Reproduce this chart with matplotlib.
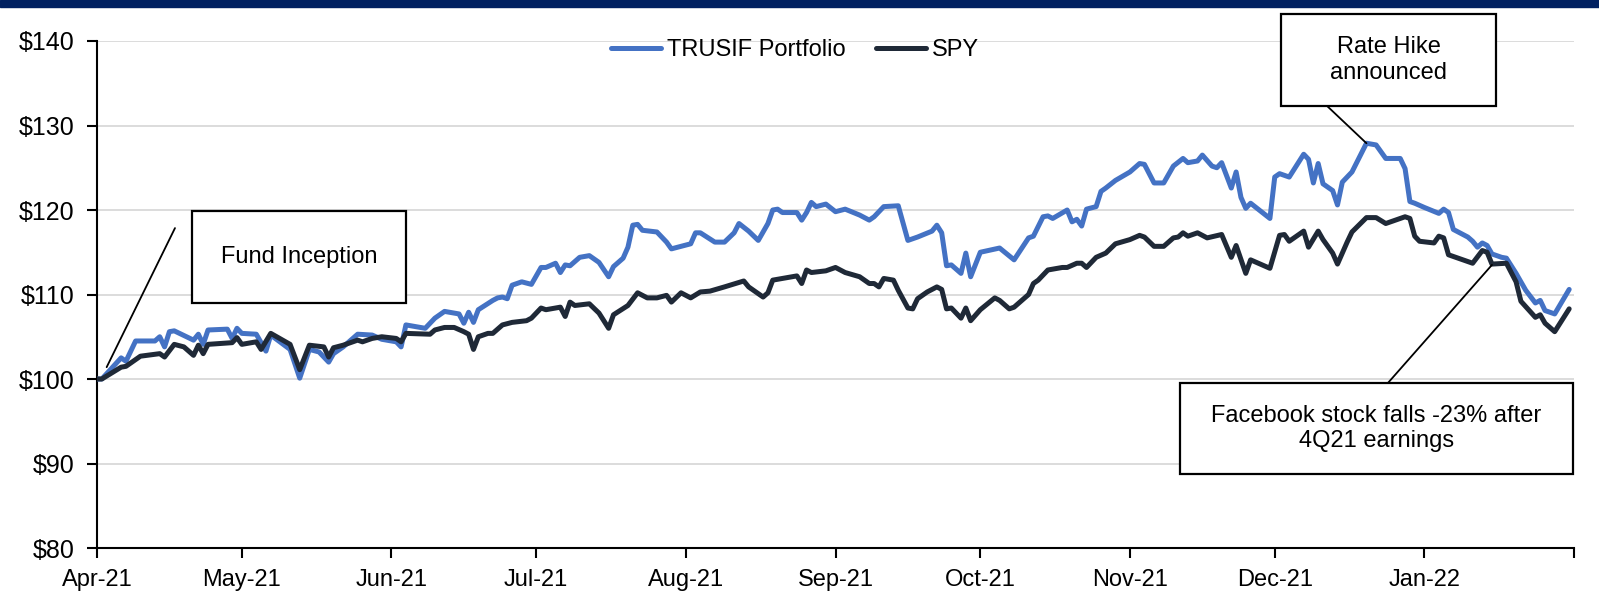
import matplotlib
matplotlib.use("Agg")
import matplotlib.pyplot as plt
import matplotlib.dates as mdates
import pandas as pd
from matplotlib.patches import Rectangle

plt.rcParams["font.family"] = ["Liberation Sans", "DejaVu Sans"]

# values (indexed to $100 at inception)
tru_dates = [
    "2021-04-01", "2021-04-02", "2021-04-06", "2021-04-07", "2021-04-09", "2021-04-13", "2021-04-14",
    "2021-04-15", "2021-04-16", "2021-04-17", "2021-04-21", "2021-04-22", "2021-04-23", "2021-04-24",
    "2021-04-28", "2021-04-29", "2021-04-30", "2021-05-01", "2021-05-04", "2021-05-06", "2021-05-07",
    "2021-05-11", "2021-05-13", "2021-05-15", "2021-05-17", "2021-05-19", "2021-05-20", "2021-05-22",
    "2021-05-25", "2021-05-28", "2021-05-30", "2021-06-02", "2021-06-03", "2021-06-04", "2021-06-08",
    "2021-06-10", "2021-06-12", "2021-06-15", "2021-06-16", "2021-06-17", "2021-06-18", "2021-06-19",
    "2021-06-22", "2021-06-23", "2021-06-24", "2021-06-25", "2021-06-26", "2021-06-28", "2021-06-30",
    "2021-07-02", "2021-07-03", "2021-07-05", "2021-07-06", "2021-07-07", "2021-07-08", "2021-07-10",
    "2021-07-12", "2021-07-14", "2021-07-16", "2021-07-17", "2021-07-19", "2021-07-20", "2021-07-21",
    "2021-07-22", "2021-07-23", "2021-07-26", "2021-07-28", "2021-07-29", "2021-07-31", "2021-08-02",
    "2021-08-03", "2021-08-04", "2021-08-07", "2021-08-09", "2021-08-11", "2021-08-12", "2021-08-14",
    "2021-08-16", "2021-08-18", "2021-08-19", "2021-08-20", "2021-08-21", "2021-08-24", "2021-08-25",
    "2021-08-26", "2021-08-27", "2021-08-28", "2021-08-30", "2021-09-01", "2021-09-03", "2021-09-06",
    "2021-09-08", "2021-09-09", "2021-09-11", "2021-09-14", "2021-09-16", "2021-09-18", "2021-09-21",
    "2021-09-22", "2021-09-23", "2021-09-24", "2021-09-25", "2021-09-27", "2021-09-28", "2021-09-29",
    "2021-10-01", "2021-10-05", "2021-10-08", "2021-10-11", "2021-10-12", "2021-10-14", "2021-10-15",
    "2021-10-16", "2021-10-19", "2021-10-20", "2021-10-21", "2021-10-22", "2021-10-23", "2021-10-25",
    "2021-10-26", "2021-10-27", "2021-10-29", "2021-11-01", "2021-11-03", "2021-11-04", "2021-11-06",
    "2021-11-08", "2021-11-10", "2021-11-12", "2021-11-13", "2021-11-15", "2021-11-16", "2021-11-18",
    "2021-11-19", "2021-11-20", "2021-11-22", "2021-11-23", "2021-11-24", "2021-11-25", "2021-11-26",
    "2021-11-30", "2021-12-01", "2021-12-02", "2021-12-04", "2021-12-07", "2021-12-08", "2021-12-09",
    "2021-12-10", "2021-12-11", "2021-12-13", "2021-12-14", "2021-12-15", "2021-12-17", "2021-12-20",
    "2021-12-22", "2021-12-24", "2021-12-27", "2021-12-28", "2021-12-29", "2021-12-30", "2022-01-01",
    "2022-01-04", "2022-01-05", "2022-01-06", "2022-01-07", "2022-01-10", "2022-01-11", "2022-01-12",
    "2022-01-13", "2022-01-14", "2022-01-15", "2022-01-17", "2022-01-18", "2022-01-20", "2022-01-22",
    "2022-01-24", "2022-01-25", "2022-01-26", "2022-01-28", "2022-01-31",
]
tru_vals = [
    100.0, 100.0, 102.5, 102.1, 104.5, 104.5, 105.0,
    103.8, 105.6, 105.7, 104.6, 105.3, 104.1, 105.8,
    105.9, 104.8, 106.0, 105.4, 105.3, 103.3, 105.2,
    103.5, 100.1, 103.5, 103.2, 102.0, 103.0, 103.8,
    105.3, 105.2, 104.7, 104.4, 103.8, 106.4, 106.0,
    107.2, 108.0, 107.7, 106.6, 107.9, 106.7, 108.2,
    109.3, 109.6, 109.7, 109.5, 111.1, 111.5, 111.2,
    113.2, 113.2, 113.7, 112.6, 113.5, 113.4, 114.4,
    114.6, 113.8, 112.1, 113.3, 114.3, 115.6, 118.2,
    118.3, 117.6, 117.4, 116.2, 115.4, 115.7, 116.0,
    117.3, 117.3, 116.2, 116.2, 117.3, 118.4, 117.5,
    116.4, 118.4, 120.0, 120.1, 119.7, 119.7, 118.8,
    119.7, 120.9, 120.4, 120.7, 119.8, 120.1, 119.4,
    118.8, 119.2, 120.4, 120.5, 116.4, 116.8, 117.5,
    118.2, 117.3, 113.4, 113.5, 112.5, 114.9, 112.1,
    115.0, 115.5, 114.1, 116.7, 116.9, 119.2, 119.3,
    119.0, 120.0, 118.6, 118.9, 118.1, 120.1, 120.4,
    122.2, 122.6, 123.5, 124.5, 125.5, 125.4, 123.2,
    123.2, 125.2, 126.1, 125.6, 125.8, 126.5, 125.2,
    125.0, 125.6, 122.6, 124.5, 121.5, 120.2, 120.8,
    119.0, 123.9, 124.3, 123.9, 126.6, 126.0, 123.2,
    125.5, 123.1, 122.3, 120.6, 123.3, 124.5, 127.9,
    127.7, 126.1, 126.1, 124.9, 121.0, 120.8, 120.3,
    119.6, 120.1, 119.7, 117.7, 116.8, 116.3, 115.6,
    116.1, 115.8, 114.8, 114.4, 114.3, 112.5, 110.5,
    109.0, 109.3, 108.1, 107.7, 110.6,
]

spy_dates = [
    "2021-04-01", "2021-04-02", "2021-04-06", "2021-04-07", "2021-04-10", "2021-04-14", "2021-04-15",
    "2021-04-17", "2021-04-19", "2021-04-21", "2021-04-22", "2021-04-23", "2021-04-24", "2021-04-29",
    "2021-04-30", "2021-05-01", "2021-05-04", "2021-05-05", "2021-05-07", "2021-05-11", "2021-05-13",
    "2021-05-15", "2021-05-18", "2021-05-19", "2021-05-20", "2021-05-22", "2021-05-25", "2021-05-26",
    "2021-05-28", "2021-05-30", "2021-06-02", "2021-06-03", "2021-06-04", "2021-06-09", "2021-06-10",
    "2021-06-12", "2021-06-14", "2021-06-16", "2021-06-17", "2021-06-18", "2021-06-19", "2021-06-21",
    "2021-06-22", "2021-06-24", "2021-06-26", "2021-06-29", "2021-06-30", "2021-07-02", "2021-07-03",
    "2021-07-06", "2021-07-07", "2021-07-08", "2021-07-09", "2021-07-12", "2021-07-14", "2021-07-16",
    "2021-07-17", "2021-07-20", "2021-07-22", "2021-07-24", "2021-07-26", "2021-07-28", "2021-07-29",
    "2021-07-31", "2021-08-02", "2021-08-04", "2021-08-06", "2021-08-09", "2021-08-13", "2021-08-14",
    "2021-08-17", "2021-08-18", "2021-08-19", "2021-08-21", "2021-08-24", "2021-08-25", "2021-08-26",
    "2021-08-27", "2021-08-30", "2021-09-01", "2021-09-03", "2021-09-06", "2021-09-08", "2021-09-09",
    "2021-09-10", "2021-09-11", "2021-09-13", "2021-09-14", "2021-09-16", "2021-09-17", "2021-09-18",
    "2021-09-20", "2021-09-22", "2021-09-23", "2021-09-24", "2021-09-25", "2021-09-27", "2021-09-28",
    "2021-09-29", "2021-10-01", "2021-10-04", "2021-10-05", "2021-10-07", "2021-10-08", "2021-10-11",
    "2021-10-12", "2021-10-13", "2021-10-15", "2021-10-18", "2021-10-19", "2021-10-21", "2021-10-22",
    "2021-10-23", "2021-10-25", "2021-10-27", "2021-10-29", "2021-11-01", "2021-11-03", "2021-11-04",
    "2021-11-06", "2021-11-08", "2021-11-10", "2021-11-11", "2021-11-12", "2021-11-13", "2021-11-15",
    "2021-11-17", "2021-11-20", "2021-11-22", "2021-11-23", "2021-11-25", "2021-11-26", "2021-11-30",
    "2021-12-02", "2021-12-03", "2021-12-04", "2021-12-07", "2021-12-08", "2021-12-10", "2021-12-11",
    "2021-12-13", "2021-12-14", "2021-12-16", "2021-12-17", "2021-12-20", "2021-12-22", "2021-12-24",
    "2021-12-28", "2021-12-29", "2021-12-30", "2021-12-31", "2022-01-03", "2022-01-04", "2022-01-05",
    "2022-01-06", "2022-01-11", "2022-01-13", "2022-01-14", "2022-01-15", "2022-01-18", "2022-01-20",
    "2022-01-21", "2022-01-24", "2022-01-25", "2022-01-26", "2022-01-28", "2022-01-31",
]
spy_vals = [
    100.0, 100.0, 101.4, 101.5, 102.7, 103.0, 102.6,
    104.1, 103.8, 102.8, 104.0, 103.0, 104.1, 104.3,
    104.9, 104.1, 104.4, 103.5, 105.4, 104.1, 101.1,
    104.0, 103.8, 102.6, 103.7, 104.0, 104.6, 104.4,
    104.8, 105.0, 104.8, 104.4, 105.4, 105.3, 105.8,
    106.1, 106.1, 105.6, 105.3, 103.5, 105.0, 105.4,
    105.4, 106.4, 106.7, 106.9, 107.2, 108.4, 108.2,
    108.5, 107.4, 109.1, 108.7, 108.9, 107.8, 106.0,
    107.6, 108.7, 110.2, 109.6, 109.6, 109.9, 109.1,
    110.2, 109.6, 110.3, 110.4, 110.9, 111.6, 110.9,
    109.7, 110.2, 111.7, 111.9, 112.2, 111.3, 112.9,
    112.6, 112.8, 113.2, 112.6, 112.1, 111.3, 111.3,
    110.9, 111.9, 111.7, 110.5, 108.4, 108.3, 109.5,
    110.3, 110.9, 110.6, 108.3, 108.4, 107.2, 108.4,
    106.9, 108.2, 109.6, 109.3, 108.3, 108.5, 110.0,
    111.3, 111.7, 112.9, 113.2, 113.2, 113.7, 113.7,
    113.2, 114.4, 114.9, 116.0, 116.5, 117.0, 116.8,
    115.7, 115.7, 116.7, 116.8, 117.3, 116.9, 117.3,
    116.7, 117.1, 114.4, 115.8, 112.5, 114.1, 113.1,
    117.0, 117.1, 116.3, 117.5, 115.6, 117.5, 116.5,
    114.9, 113.6, 116.2, 117.4, 119.1, 119.1, 118.4,
    119.2, 119.0, 116.9, 116.3, 116.1, 116.9, 116.7,
    114.7, 113.7, 115.2, 115.0, 113.6, 113.7, 111.5,
    109.2, 107.3, 107.6, 106.6, 105.6, 108.3,
]

series_names = ["TRUSIF Portfolio", "SPY"]
series_colors = ["#4472C4", "#1F2937"]
y_ticks = [80, 90, 100, 110, 120, 130, 140]
month_ticks = pd.date_range("2021-04-01", "2022-02-01", freq="MS")

W, H = 1599, 593
fig = plt.figure(figsize=(W / 100, H / 100), dpi=100)
ax = fig.add_axes([97 / W, 45 / H, 1477 / W, 507 / H])

# navy header strip
fig.patches.append(Rectangle((0, 1 - 7 / H), 1, 7 / H, transform=fig.transFigure,
                             color="#002060", zorder=0))

ax.plot(pd.to_datetime(tru_dates), tru_vals, color=series_colors[0], lw=3.6,
        label=series_names[0], solid_joinstyle="round", solid_capstyle="round", zorder=3)
ax.plot(pd.to_datetime(spy_dates), spy_vals, color=series_colors[1], lw=3.6,
        label=series_names[1], solid_joinstyle="round", solid_capstyle="round", zorder=4)

ax.set_xlim(month_ticks[0], month_ticks[-1])
ax.set_ylim(80, 140)
ax.set_xticks(month_ticks)
ax.set_xticklabels([d.strftime("%b-%y") for d in month_ticks[:-1]] + [""])
ax.set_yticks(y_ticks)
ax.set_yticklabels([f"${v}" for v in y_ticks])
ax.tick_params(axis="x", length=7, width=1.5, pad=8, labelsize=17, colors="black")
ax.tick_params(axis="y", length=7, width=1.5, pad=9, labelsize=18, colors="black")

ax.yaxis.grid(True, color="#D9D9D9", lw=1.3)
ax.set_axisbelow(True)
for s in ["top", "right"]:
    ax.spines[s].set_visible(False)
for s in ["left", "bottom"]:
    ax.spines[s].set_linewidth(1.5)
    ax.spines[s].set_color("black")

ax.legend(loc="center", bbox_to_anchor=(795 / W, 1 - 50 / H), bbox_transform=fig.transFigure,
          ncol=2, frameon=False, fontsize=17, handlelength=2.1, handletextpad=0.25,
          columnspacing=1.3)


def callout(x0, y0, x1, y1, text):
    ax.add_patch(Rectangle((x0, y0), x1 - x0, y1 - y0, transform=ax.transAxes,
                           facecolor="white", edgecolor="black", lw=1.6,
                           clip_on=False, zorder=6))
    ax.text((x0 + x1) / 2, (y0 + y1) / 2, text, transform=ax.transAxes,
            ha="center", va="center", fontsize=17, zorder=7, linespacing=1.2)


def pointer(date, value, fx, fy):
    ax.annotate("", xy=(mdates.date2num(pd.Timestamp(date)), value), xytext=(fx, fy),
                textcoords="axes fraction",
                arrowprops=dict(arrowstyle="-", color="black", lw=1.3,
                                shrinkA=0, shrinkB=0), zorder=5, annotation_clip=False)


callout(0.0643, 0.4832, 0.2092, 0.6647, "Fund Inception")
pointer("2021-04-03", 101.4, 0.0528, 0.631)

callout(0.8016, 0.8718, 0.9472, 1.053, "Rate Hike\nannounced")
pointer("2021-12-20", 127.9, 0.8321, 0.8738)

callout(0.7332, 0.146, 0.9993, 0.3254, "Facebook stock falls -23% after\n4Q21 earnings")
pointer("2022-01-15", 113.5, 0.874, 0.3254)

fig.savefig("out.png", dpi=100)
